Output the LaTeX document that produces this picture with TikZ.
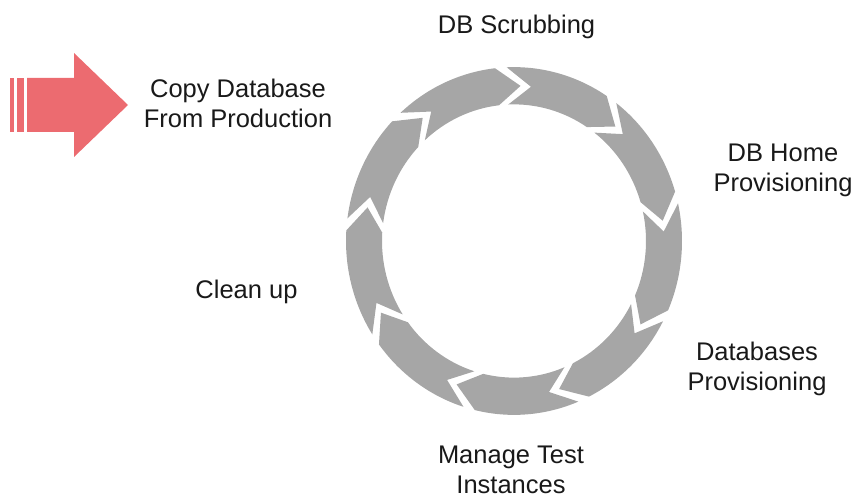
\documentclass[tikz,border=0pt]{standalone}
\usepackage{fontspec}
\setmainfont{Liberation Sans}
\definecolor{ringgray}{HTML}{A6A6A6}
\definecolor{arrowred}{HTML}{EC6B70}
\begin{document}
\begin{tikzpicture}[x=1pt,y=1pt,
  lbl/.style={font=\fontsize{25.5}{30}\selectfont, align=center, inner sep=0pt, anchor=base, text=black!90},
  seg/.style={fill=ringgray, draw=none},
  redarrow/.style={fill=arrowred, draw=none}]
\path[use as bounding box] (0,0) rectangle (859,-497);
% ring of nine chevron segments, clockwise
\begin{scope}[shift={(514,-241)}, yscale=1.035]
  \def\Ro{168}\def\Ri{132}\def\Rm{150}
  \def\dd{4.5}\def\hh{2.0}
  \foreach \k in {0,...,8}{
    \pgfmathsetmacro\s{90-40*\k}
    \pgfmathsetmacro\e{\s-40}
    \pgfmathsetmacro\aO{\s+\dd-\hh}
    \pgfmathsetmacro\aN{\s-\dd-\hh}
    \pgfmathsetmacro\bO{\e+\dd+\hh}
    \pgfmathsetmacro\bT{\e-\dd+\hh}
    \fill[seg] (\aO:\Ro) arc[start angle=\aO, end angle=\bO, radius=\Ro]
      -- (\bT:\Rm) -- (\bO:\Ri)
      arc[start angle=\bO, end angle=\aO, radius=\Ri]
      -- (\aN:\Rm) -- cycle;
  }
\end{scope}
% red striped arrow
\fill[redarrow] (10,-78) rectangle (14,-132);
\fill[redarrow] (17,-78) rectangle (24,-132);
\fill[redarrow] (27,-78) -- (74,-78) -- (74,-53) -- (128,-105) -- (74,-157) -- (74,-132) -- (27,-132) -- cycle;
% labels (base anchor = baseline of last line)
\node[lbl] (scrub) at (516.5,-34) {DB Scrubbing};
\node[lbl] (home) at (783,-192) {DB Home\\Provisioning};
\node[lbl] (dbprov) at (757,-390) {Databases\\Provisioning};
\node[lbl] (manage) at (511,-493) {Manage Test\\Instances};
\node[lbl] (clean) at (246.5,-298) {Clean up};
\node[lbl] (copy) at (238,-128) {Copy Database\\From Production};
\end{tikzpicture}
\end{document}
